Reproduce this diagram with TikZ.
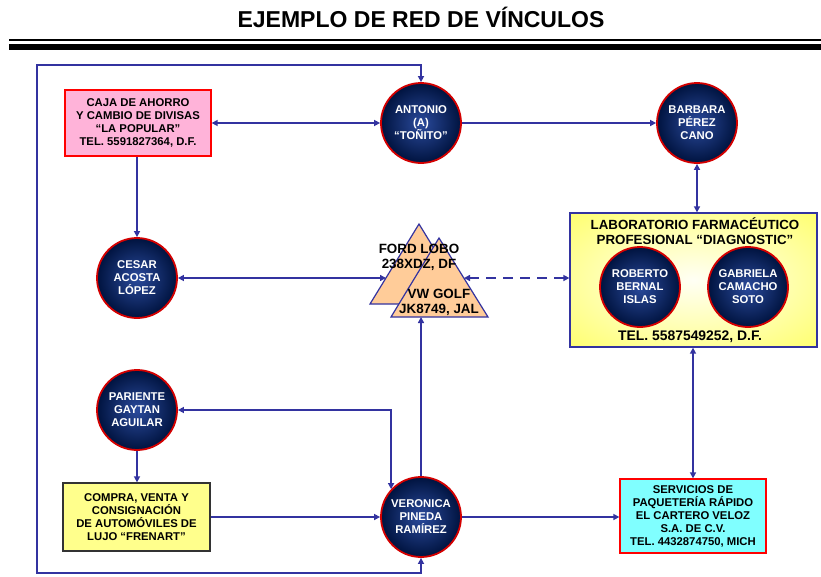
\documentclass[tikz,border=0pt]{standalone}
\usepackage{fontspec}
\setmainfont{Liberation Sans}
\usetikzlibrary{arrows.meta,calc}
\definecolor{linkblue}{HTML}{3333A0}
\definecolor{navyin}{HTML}{2A4A9C}
\definecolor{navyout}{HTML}{00133F}
\definecolor{ringred}{HTML}{D40000}
\definecolor{pinkbox}{HTML}{FFB3D9}
\definecolor{yellowbox}{HTML}{FFFF8C}
\definecolor{cyanbox}{HTML}{80FFFF}
\definecolor{peach}{HTML}{FFCC99}
\definecolor{labyellow}{HTML}{FFFF55}
\pgfdeclareradialshading{labglow}{\pgfpoint{0bp}{0bp}}{color(0bp)=(yellow!4!white);
  color(18bp)=(yellow!30!white); color(38bp)=(labyellow!90!white); color(50bp)=(labyellow)}
\newcommand{\bodyfont}{\fontsize{11.3}{13}\selectfont\bfseries}
\newcommand{\carfont}{\fontsize{13.4}{15}\selectfont\bfseries}
\tikzset{
  person/.style={circle, minimum size=80pt, inner sep=0pt, draw=ringred, line width=1.8pt,
    inner color=navyin, outer color=navyout, text=white, align=center, font=\bodyfont},
  box/.style={draw, line width=1.3pt, align=center, inner sep=0pt, font=\bodyfont},
  car/.style={draw=linkblue, fill=peach, line width=1.2pt, line join=miter},
  link/.style={draw=linkblue, line width=1.6pt, -{Triangle[length=6pt,width=6pt]}},
  twoway/.style={link, {Triangle[length=6pt,width=6pt]}-{Triangle[length=6pt,width=6pt]}},
}

\begin{document}
\begin{tikzpicture}[x=1pt, y=-1pt]
    \useasboundingbox (0,0) rectangle (821,576);
    \node[font=\fontsize{23}{26}\selectfont\bfseries] (title) at (421,17) {EJEMPLO DE RED DE VÍNCULOS};
    \fill (9,39) rectangle (821,41);
    \fill (9,44) rectangle (821,50);
    % boxes
    \node[box, draw=red, fill=pinkbox, minimum width=146pt, minimum height=66pt] (caja) at (138,123)
      {CAJA DE AHORRO\\Y CAMBIO DE DIVISAS\\“LA POPULAR”\\TEL. 5591827364, D.F.};
    \node[box, draw=black!80, fill=yellowbox, minimum width=147pt, minimum height=68pt] (compra) at (136.5,517)
      {COMPRA, VENTA Y\\CONSIGNACIÓN\\DE AUTOMÓVILES DE\\LUJO “FRENART”};
    \node[box, draw=red, fill=cyanbox, minimum width=146pt, minimum height=74pt] (servicios) at (693,516)
      {SERVICIOS DE\\PAQUETERÍA RÁPIDO\\EL CARTERO VELOZ\\S.A. DE C.V.\\TEL. 4432874750, MICH};
    \node[box, draw=linkblue, shading=labglow,
      minimum width=247pt, minimum height=134pt] (lab) at (693.5,280) {};
    \node[align=center, font=\fontsize{13.3}{15}\selectfont\bfseries] (labname) at (695,231)
      {LABORATORIO FARMACÉUTICO\\PROFESIONAL “DIAGNOSTIC”};
    \node[font=\fontsize{13.9}{16}\selectfont\bfseries] (labtel) at (690,337) {TEL. 5587549252, D.F.};
    % people
    \node[person] (antonio) at (421,123) {ANTONIO\\(A)\\“TOÑITO”};
    \node[person] (barbara) at (697,123) {BARBARA\\PÉREZ\\CANO};
    \node[person] (cesar) at (137,278) {CESAR\\ACOSTA\\LÓPEZ};
    \node[person] (roberto) at (640,287) {ROBERTO\\BERNAL\\ISLAS};
    \node[person] (gabriela) at (748,287) {GABRIELA\\CAMACHO\\SOTO};
    \node[person] (pariente) at (137,410) {PARIENTE\\GAYTAN\\AGUILAR};
    \node[person] (veronica) at (421,517) {VERONICA\\PINEDA\\RAMÍREZ};
    % cars
    \filldraw[car] (370,304) -- (419,224) -- (468,304) -- cycle;
    \filldraw[car] (391,317) -- (439,238) -- (488,317) -- cycle;
    \node[align=center, font=\carfont] (ford) at (419,257.5) {FORD LOBO\\238XDZ, DF};
    \node[align=center, font=\carfont] (vw) at (439,302.5) {VW GOLF\\JK8749, JAL};
    \coordinate (fordin) at (386,278);
    \coordinate (vwin) at (464,278);
    \coordinate (vwbase) at (421,317);
    \coordinate (looptop) at (37,65);
    \coordinate (loopbot) at (37,573);
    % links
    \draw[twoway] (caja) -- (antonio);
    \draw[link] (antonio) -- (barbara);
    \draw[twoway] (barbara) -- (barbara |- lab.north);
    \draw[link] (caja.south -| cesar) -- (cesar);
    \draw[twoway] (cesar) -- (fordin);
    \draw[twoway, dash pattern=on 10pt off 7pt] (vwin -| lab.west) -- (vwin);
    \draw[link] (veronica) -- (vwbase);
    \draw[twoway] (pariente) -| (veronica.137);
    \draw[link] (pariente) -- (pariente |- compra.north);
    \draw[link] (compra) -- (veronica);
    \draw[link] (veronica) -- (veronica -| servicios.west);
    \draw[twoway] (lab.south -| servicios) -- (servicios);
    \draw[twoway] (antonio) |- (looptop) -- (loopbot) -| (veronica);
\end{tikzpicture}
\end{document}
